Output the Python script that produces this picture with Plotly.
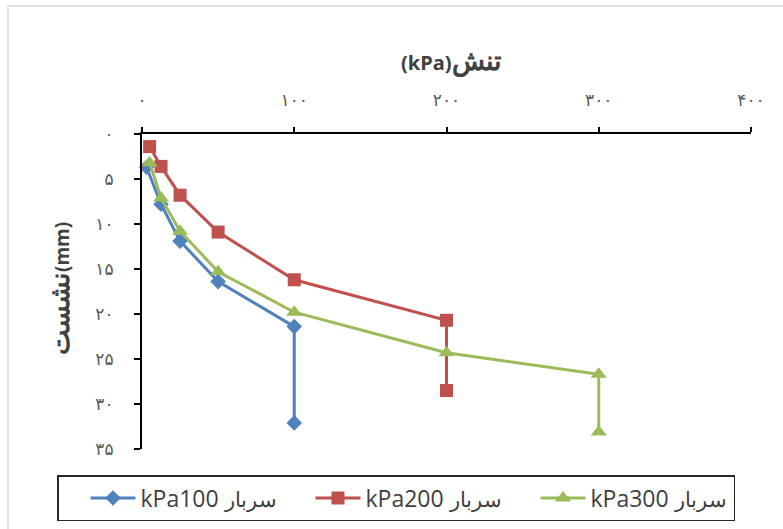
import plotly.graph_objects as go

# Plate load test: settlement vs. applied stress for three surcharge levels
stress_100 = [3, 12.5, 25, 50, 100, 100]
settle_100 = [3.7, 7.8, 11.9, 16.4, 21.4, 32.1]

stress_200 = [5, 12.5, 25, 50, 100, 200, 200]
settle_200 = [1.4, 3.6, 6.8, 10.9, 16.2, 20.7, 28.5]

stress_300 = [5, 12.5, 25, 50, 100, 200, 300, 300]
settle_300 = [3.2, 7.1, 10.8, 15.3, 19.8, 24.3, 26.7, 33.1]

surcharge_labels = ["kPa100", "kPa200", "kPa300"]
surcharge_word = "سربار"

x_tickvals = [0, 100, 200, 300, 400]
x_ticktext = ["۰", "۱۰۰", "۲۰۰", "۳۰۰", "۴۰۰"]
y_tickvals = [0, 5, 10, 15, 20, 25, 30, 35]
y_ticktext = ["۰", "۵", "۱۰", "۱۵", "۲۰", "۲۵", "۳۰", "۳۵"]

x_title_unit, x_title_word = "(kPa)", "تنش"
y_title_word, y_title_unit = "نشست", "(mm)"

colors = ["#4F81BD", "#C0504D", "#9BBB59"]
symbols = ["diamond", "square", "triangle-up"]
sizes = [12, 13, 14]

fig = go.Figure()
for xs, ys, lab, c, sym, sz in zip(
    [stress_100, stress_200, stress_300],
    [settle_100, settle_200, settle_300],
    surcharge_labels, colors, symbols, sizes,
):
    name = lab + " <span style='font-size:21px'>" + surcharge_word + "</span>"
    fig.add_trace(go.Scatter(
        x=xs, y=ys, name=name, mode="lines+markers",
        line=dict(color=c, width=3),
        marker=dict(symbol=sym, size=sz, color=c),
        cliponaxis=False,
    ))

W, H = 783, 529
L, R, T, B = 142, 32, 134, 80
pw, ph = W - L - R, H - T - B

def px_x(p):
    return (p - L) / pw

def px_y(p):
    return (H - B - p) / ph

axis_common = dict(
    showgrid=False, zeroline=False,
    showline=True, linecolor="black", linewidth=2,
    ticks="outside", tickcolor="black", tickwidth=2,
    tickfont=dict(family="DejaVu Sans", size=17, color="#595959"),
)

fig.update_layout(
    width=W, height=H,
    margin=dict(l=L, r=R, t=T, b=B, autoexpand=False),
    paper_bgcolor="white", plot_bgcolor="white",
    xaxis=dict(
        side="top", range=[0, 400],
        tickmode="array", tickvals=x_tickvals, ticktext=x_ticktext,
        ticklen=5, ticklabelstandoff=14,
        **axis_common,
    ),
    yaxis=dict(
        range=[35, 0],
        tickmode="array", tickvals=y_tickvals, ticktext=y_ticktext,
        ticklen=6, ticklabelstandoff=17,
        **axis_common,
    ),
    showlegend=True,
    legend=dict(
        orientation="h",
        xref="paper", yref="paper",
        x=px_x(57), xanchor="left",
        y=px_y(475), yanchor="top",
        bordercolor="#262626", borderwidth=1.5,
        bgcolor="white",
        font=dict(family="Open Sans", size=23, color="#404040"),
        entrywidth=138, entrywidthmode="pixels",
        itemwidth=45, indentation=27,
        traceorder="normal",
    ),
    annotations=[
        dict(text="<b>" + x_title_unit + "<span style='font-size:27px'>"
                  + x_title_word + "</span></b>",
             xref="paper", yref="paper",
             x=px_x(451), y=px_y(60), xanchor="center", yanchor="middle",
             showarrow=False,
             font=dict(family="Open Sans", size=20, color="#404040")),
        dict(text="<b><span style='font-size:27px'>" + y_title_word
                  + "</span>" + y_title_unit + "</b>",
             xref="paper", yref="paper",
             x=px_x(58), y=px_y(289), xanchor="center", yanchor="middle",
             showarrow=False, textangle=-90,
             font=dict(family="Open Sans", size=19, color="#404040")),
    ],
    shapes=[
        # light chart-area frame
        dict(type="rect", xref="paper", yref="paper",
             x0=px_x(8), y0=px_y(6), x1=px_x(W + 100), y1=px_y(H + 100),
             line=dict(color="#D9D9D9", width=1.5), layer="below"),
    ],
)

fig.write_html("out.html")
